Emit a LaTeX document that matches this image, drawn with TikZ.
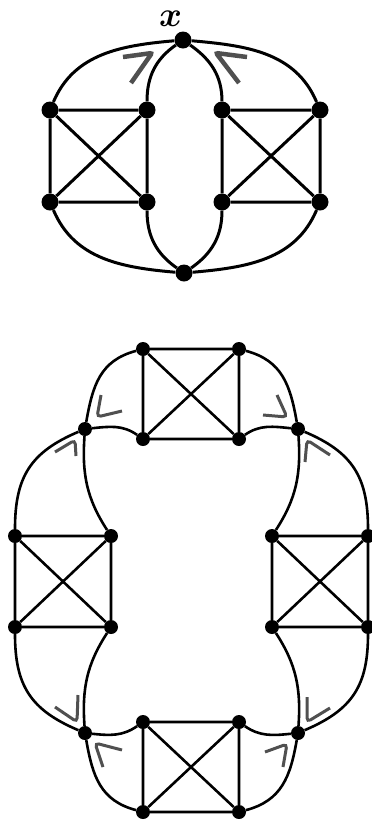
\documentclass[tikz,border=0pt]{standalone}
\usepackage{amsmath}
\usepackage{graphicx}
\usepackage{xcolor}
\usepackage{tikz}
\usetikzlibrary{positioning}
\definecolor{markgray}{HTML}{505050}

\begin{document}
\begin{tikzpicture}[x=1pt, y=1pt, on grid,
    vtx/.style={circle, fill=black, inner sep=0pt, minimum size=14pt},
    bigvtx/.style={vtx, minimum size=17pt},
    edge/.style={line width=2.6pt},
    bigedge/.style={line width=3pt},
    anglemark/.style={draw=markgray, line width=3pt, rounded corners=4pt}]

    \useasboundingbox (0,0) rectangle (372,-820);

    % graph with the vertex x
    \node (x) [bigvtx] at (183,-40) {};
    \node (xlab) [above=20.8pt of x, xshift=-12.5pt, inner sep=0pt] {\scalebox{1.4}{\Huge\boldmath$x$}};
    \node (y) [bigvtx] at (184,-273) {};

    \node (a1) [bigvtx] at (50,-110) {};
    \node (a2) [bigvtx, right=97pt of a1] {};
    \node (a3) [bigvtx, below=92pt of a1] {};
    \node (a4) [bigvtx, below=92pt of a2] {};

    \node (b1) [bigvtx] at (222,-110) {};
    \node (b2) [bigvtx, right=98pt of b1] {};
    \node (b3) [bigvtx, below=92pt of b1] {};
    \node (b4) [bigvtx, below=92pt of b2] {};

    \draw[bigedge] (a1) -- (a2) -- (a4) -- (a3) -- (a1) -- (a4) (a2) -- (a3);
    \draw[bigedge] (b1) -- (b2) -- (b4) -- (b3) -- (b1) -- (b4) (b2) -- (b3);

    \draw[bigedge] (x) to[out=185, in=67] (a1) (x) to[out=215, in=90] (a2);
    \draw[bigedge] (x) to[out=-5, in=113] (b2) (x) to[out=325, in=90] (b1);
    \draw[bigedge] (a3) to[out=293, in=175] (y) (a4) to[out=270, in=145] (y);
    \draw[bigedge] (b4) to[out=247, in=5] (y) (b3) to[out=270, in=35] (y);

    \draw[anglemark, line width=4.5pt, rounded corners=2pt] (123,-57) -- (152,-53) -- (131,-83);
    \draw[anglemark, line width=4.5pt, rounded corners=2pt] (247,-57) -- (216,-53) -- (239,-83);

    % graph made of four blocks
    \node (n1) [vtx] at (143,-349) {};
    \node (n2) [vtx, right=96pt of n1] {};
    \node (n3) [vtx, below=90pt of n1] {};
    \node (n4) [vtx, below=90pt of n2] {};

    \node (w1) [vtx] at (15,-536) {};
    \node (w2) [vtx, right=96pt of w1] {};
    \node (w3) [vtx, below=91pt of w1] {};
    \node (w4) [vtx, below=91pt of w2] {};

    \node (e1) [vtx] at (272,-536) {};
    \node (e2) [vtx, right=96pt of e1] {};
    \node (e3) [vtx, below=91pt of e1] {};
    \node (e4) [vtx, below=91pt of e2] {};

    \node (s1) [vtx] at (143,-722) {};
    \node (s2) [vtx, right=96pt of s1] {};
    \node (s3) [vtx, below=90pt of s1] {};
    \node (s4) [vtx, below=90pt of s2] {};

    \node (jnw) [vtx] at (85,-429) {};
    \node (jne) [vtx] at (298,-429) {};
    \node (jsw) [vtx] at (85,-733) {};
    \node (jse) [vtx] at (298,-733) {};

    \draw[edge] (n1) -- (n2) -- (n4) -- (n3) -- (n1) -- (n4) (n2) -- (n3);
    \draw[edge] (w1) -- (w2) -- (w4) -- (w3) -- (w1) -- (w4) (w2) -- (w3);
    \draw[edge] (e1) -- (e2) -- (e4) -- (e3) -- (e1) -- (e4) (e2) -- (e3);
    \draw[edge] (s1) -- (s2) -- (s4) -- (s3) -- (s1) -- (s4) (s2) -- (s3);

    \draw[edge] (jnw) to[out=80, in=195, looseness=1.1] (n1) (jnw) to[out=6, in=145] (n3);
    \draw[edge] (jnw) to[out=203, in=90, looseness=1.15] (w1) (jnw) to[out=266, in=123] (w2);
    \draw[edge] (jne) to[out=100, in=-15, looseness=1.1] (n2) (jne) to[out=174, in=35] (n4);
    \draw[edge] (jne) to[out=-23, in=90, looseness=1.15] (e2) (jne) to[out=274, in=57] (e1);
    \draw[edge] (jsw) to[out=-80, in=165, looseness=1.1] (s3) (jsw) to[out=-6, in=215] (s1);
    \draw[edge] (jsw) to[out=157, in=270, looseness=1.15] (w3) (jsw) to[out=94, in=237] (w4);
    \draw[edge] (jse) to[out=260, in=15, looseness=1.1] (s4) (jse) to[out=186, in=325] (s2);
    \draw[edge] (jse) to[out=23, in=270, looseness=1.15] (e4) (jse) to[out=86, in=303] (e3);

    \draw[anglemark] (101,-395) -- (97,-417) -- (122,-411);
    \draw[anglemark] (55,-452) -- (75,-440) -- (76,-456);
    \draw[anglemark] (277,-395) -- (287,-417) -- (263,-415);
    \draw[anglemark] (305,-462) -- (307,-440) -- (330,-455);
    \draw[anglemark] (55,-707) -- (77,-722) -- (78,-695);
    \draw[anglemark] (122,-750) -- (95,-743) -- (103,-767);
    \draw[anglemark] (307,-697) -- (307,-722) -- (330,-708);
    \draw[anglemark] (265,-752) -- (287,-744) -- (283,-767);

\end{tikzpicture}
\end{document}
